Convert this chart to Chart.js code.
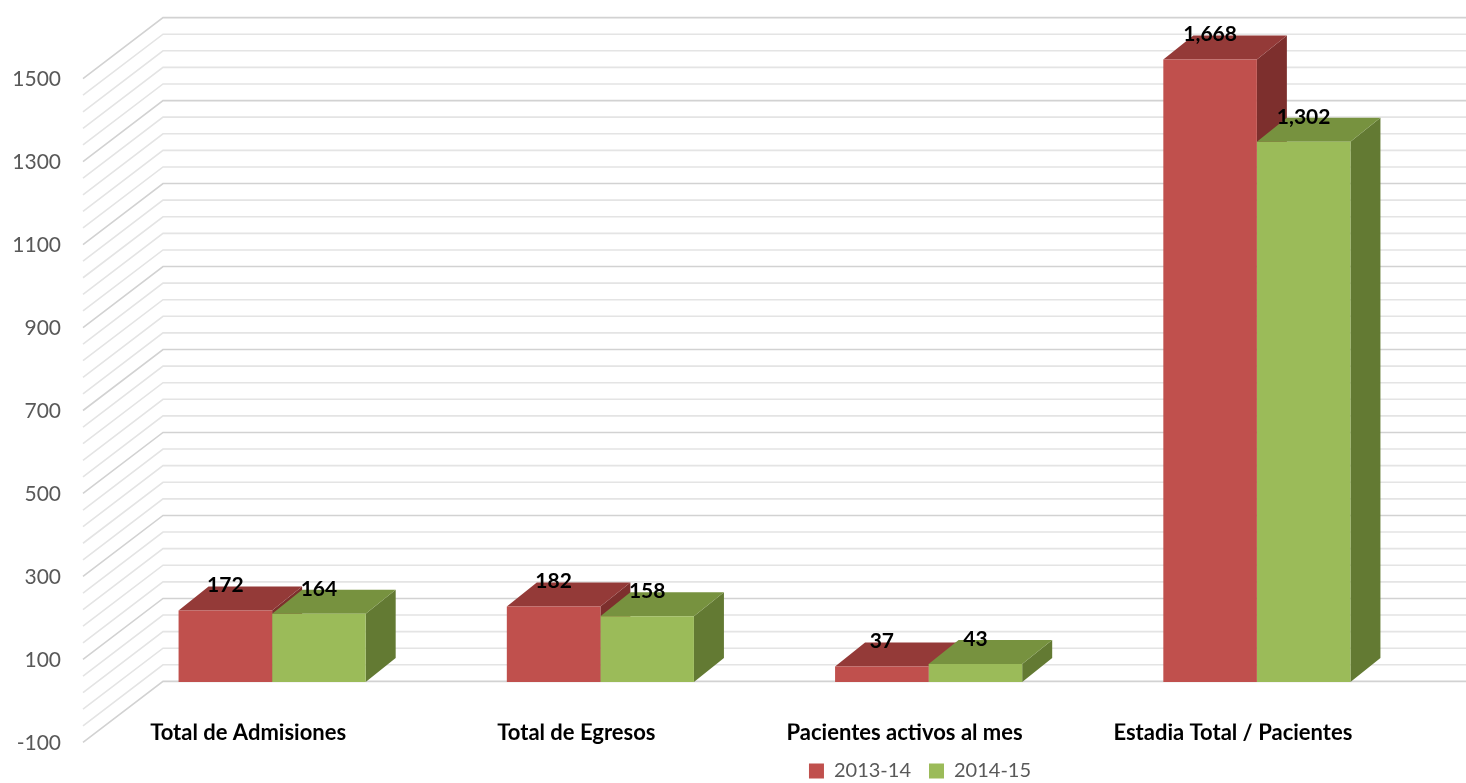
<!DOCTYPE html>
<html>
<head>
<meta charset="utf-8">
<script src="https://cdn.jsdelivr.net/npm/chart.js@4.4.1/dist/chart.umd.min.js"></script>
<style>
  html, body { margin: 0; padding: 0; background: #ffffff; }
  canvas { display: block; }
</style>
</head>
<body>
<canvas id="chart" width="1466" height="783"></canvas>
<script>
// chart data
var categories = ["Total de Admisiones", "Total de Egresos", "Pacientes activos al mes", "Estadia Total / Pacientes"];
var seriesNames = ["2013-14", "2014-15"];
var values2013 = [172, 182, 37, 1668];
var values2014 = [164, 158, 43, 1302];
var yTicks = [-100, 100, 300, 500, 700, 900, 1100, 1300, 1500];
var yMin = -100;
var yMax = 1500;
var gridStep = 40;

// colours: front, top, side
var frontColors = ["#c0504d", "#9bbb59"];
var topColors = ["#943a38", "#77923f"];
var sideColors = ["#7d2f2d", "#637a33"];

// depth offsets relative to the bar front plane
var barDepth = { dx: 30, dy: -24 };
var wallFront = { dx: -25, dy: 19 };
var wallBack = { dx: 55, dy: -42 };
var legendCenterX = 920;
var legendTextY = 771;

function poly(ctx, pts, color) {
    ctx.beginPath();
    ctx.moveTo(pts[0][0], pts[0][1]);
    for (let i = 1; i < pts.length; i++) {
        ctx.lineTo(pts[i][0], pts[i][1]);
    }
    ctx.closePath();
    ctx.fillStyle = color;
    ctx.fill();
}

const bar3d = {
    id: 'bar3d',
    afterLayout(chart) {
        var lg = chart.legend;
        if (lg) {
            var shift = legendCenterX - (lg.left + lg.right) / 2;
            lg.left += shift;
            lg.right += shift;
            var h = lg.height;
            lg.top = legendTextY - lg.options.labels.padding - 10;
            lg.bottom = lg.top + h;
        }
        // give the category labels room so they are not clipped
        var x = chart.scales.x;
        x.bottom = x.top + 34;
        x.height = 34;
    },
    beforeDatasetsDraw(chart) {
        const ctx = chart.ctx;
        const area = chart.chartArea;
        const y = chart.scales.y;
        ctx.save();
        // side wall + back wall gridlines
        for (let v = yMin; v <= yMax; v += gridStep) {
            const py = y.getPixelForValue(v);
            const major = (v - yMin) % 200 === 0;
            ctx.strokeStyle = major ? "#d2d2d2" : "#e4e4e4";
            ctx.lineWidth = 1.6;
            ctx.beginPath();
            ctx.moveTo(area.left + wallFront.dx, py + wallFront.dy);
            ctx.lineTo(area.left + wallBack.dx, py + wallBack.dy);
            ctx.lineTo(chart.width, py + wallBack.dy);
            ctx.stroke();
        }
        // top and side faces, drawn before the front faces
        const metas = chart.getSortedVisibleDatasetMetas();
        for (let i = 0; i < categories.length; i++) {
            metas.forEach((meta, d) => {
                const bar = meta.data[i];
                const top = Math.max(bar.y, area.top);
                const l = bar.x - bar.width / 2;
                const r = bar.x + bar.width / 2;
                const b = bar.base;
                const dx = barDepth.dx, dy = barDepth.dy;
                poly(ctx, [[r, top], [r + dx, top + dy], [r + dx, b + dy], [r, b]], sideColors[d]);
                poly(ctx, [[l, top], [r, top], [r + dx, top + dy], [l + dx, top + dy]], topColors[d]);
            });
        }
        ctx.restore();
    },
    afterDatasetsDraw(chart) {
        const ctx = chart.ctx;
        const area = chart.chartArea;
        ctx.save();
        ctx.font = "bold 21px Lato";
        ctx.fillStyle = "#000000";
        ctx.textAlign = "center";
        ctx.textBaseline = "middle";
        chart.getSortedVisibleDatasetMetas().forEach((meta, d) => {
            const vals = chart.data.datasets[meta.index].data;
            meta.data.forEach((bar, i) => {
                const top = Math.max(bar.y, area.top);
                ctx.fillText(vals[i].toLocaleString("en-US"), bar.x, top - 25);
            });
        });
        ctx.restore();
    }
};

Chart.defaults.font.family = "Lato";

new Chart(document.getElementById("chart"), {
    type: 'bar',
    data: {
        labels: categories,
        datasets: [
            { label: seriesNames[0], data: values2013, backgroundColor: frontColors[0] },
            { label: seriesNames[1], data: values2014, backgroundColor: frontColors[1] }
        ]
    },
    options: {
        responsive: false,
        animation: false,
        layout: { padding: { top: 53, right: 45, left: 0, bottom: 0 } },
        datasets: { bar: { categoryPercentage: 0.57, barPercentage: 1.0, borderWidth: 0 } },
        scales: {
            x: {
                grid: { display: false },
                border: { display: false },
                ticks: {
                    font: { size: 22, weight: 'bold' },
                    color: "#000000",
                    labelOffset: -24,
                    padding: -12,
                    maxRotation: 0,
                    autoSkip: false
                },
                afterFit(scale) {
                    var lh = scale.chart.legend ? scale.chart.legend.height : 0;
                    scale.height = Math.max(0, 58 - lh);
                }
            },
            y: {
                min: yMin,
                max: yMax,
                grid: { display: false, drawTicks: false },
                border: { display: false },
                ticks: {
                    font: { size: 21 },
                    color: "#595959",
                    padding: 47,
                    labelOffset: 20,
                    callback: function (value) { return String(value); }
                },
                afterBuildTicks(scale) {
                    scale.ticks = yTicks.map(v => ({ value: v }));
                },
                afterFit(scale) {
                    scale.width = 108;
                }
            }
        },
        plugins: {
            legend: {
                position: 'bottom',
                labels: {
                    font: { size: 20 },
                    color: "#595959",
                    boxWidth: 15,
                    boxHeight: 15,
                    padding: 18
                }
            },
            tooltip: { enabled: false }
        }
    },
    plugins: [bar3d]
});
</script>
</body>
</html>
